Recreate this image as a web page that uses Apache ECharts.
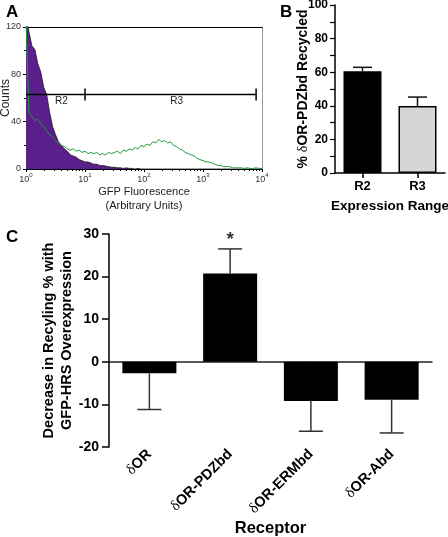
<!DOCTYPE html>
<html>
<head>
<meta charset="utf-8">
<script src="https://cdn.jsdelivr.net/npm/echarts@6/dist/echarts.min.js"></script>
<style>
html,body{margin:0;padding:0;background:#fff;}
#chart{width:448px;height:537px;}
</style>
</head>
<body>
<div id="chart"></div>
<script>
// ---------- Panel A: flow cytometry histogram ----------
// counts per histogram channel (81 channels spanning 10^0 .. 10^4)
const histControl = [130,116,104,101,89,82,69,63,48,36,29,23,20,17,15,12,11,10,8,7,
  6,6,5,4,4,3,3,2.5,2,1.5,1.5,1,1,0.5,1,0.5,0.5,0,0.5,0,
  0,0,0,0,0,0,0,0,0,0,0,0,0,0,0,0,0,0,0,0,
  0,0,0,0,0,0,0,0,0,0,0,0,0,0,0,0,0,0,0,0,0];
const histGFP = [125,48,44,41,42,38,36,32,29,27,24,22,20,19,17,16,17,15,16,14,
  15,13,14,13,14,12,13,12,14,13,14,15,13,16,15,17,16,18,17,20,
  19,21,20,23,22,25,23,24,22,23,20,19,17,16,14,13,12,11,9,8,
  7,6,6,5,4,3,3,2,2,2,1,1,1,1,0.5,1,0.5,0.5,1,0.5,0.5];
const histChannels = histControl.map((_, i) => i);
const decadeExponents = [0, 1, 2, 3, 4];
const gateNames = ['R2', 'R3'];
const gateFrom = [0, 1];      // decades
const gateTo = [1, 3.9];      // decades
const gateLevel = 63;         // counts

// ---------- Panel B ----------
const rangeCats = ['R2', 'R3'];
const rangeRecycled = [60.5, 39.9];
const rangeErr = [2.4, 5.3];

// ---------- Panel C ----------
const receptorCats = ['δOR', 'δOR-PDZbd', 'δOR-ERMbd', 'δOR-Abd'];
const receptorDecrease = [-2.7, 20.7, -9.2, -8.9];
const receptorErr = [8.5, 5.8, 7.1, 7.8];
const significantIdx = [1];

// minor log ticks (2..9 within each decade)
const minorDecadeTicks = [];
for (let d = 0; d < 4; d++) for (let k = 2; k <= 9; k++) minorDecadeTicks.push(d + Math.log10(k));

const SANS = 'Liberation Sans';
const deltaRich = (s) => s.split('δ').map((p, i) => (i > 0 ? '{d|δ}' : '') + (p ? '{t|' + p + '}' : '')).join('');

function errorRenderer(capW, color) {
  return function (params, api) {
    const c = api.value(0), v = api.value(1), e = api.value(2);
    const end = v >= 0 ? v + e : v - e;
    const p0 = api.coord([c, v]);
    const p1 = api.coord([c, end]);
    const style = { stroke: color, lineWidth: 1.5 };
    return {
      type: 'group',
      children: [
        { type: 'line', shape: { x1: p0[0], y1: p0[1], x2: p1[0], y2: p1[1] }, style },
        { type: 'line', shape: { x1: p1[0] - capW / 2, y1: p1[1], x2: p1[0] + capW / 2, y2: p1[1] }, style }
      ]
    };
  };
}

const chart = echarts.init(document.getElementById('chart'), null, { renderer: 'canvas' });
const option = {
  animation: false,
  textStyle: { fontFamily: SANS },
  title: [
    { text: 'A', left: 1, top: -1, textStyle: { fontSize: 17, fontWeight: 'bold', color: '#000', fontFamily: SANS } },
    { text: 'B', left: 275, top: -1, textStyle: { fontSize: 17, fontWeight: 'bold', color: '#000', fontFamily: SANS } },
    { text: 'C', left: 1, top: 224, textStyle: { fontSize: 17, fontWeight: 'bold', color: '#000', fontFamily: SANS } }
  ],
  grid: [
    { left: 26, top: 27, width: 236, height: 142, outerBoundsMode: 'none', containLabel: false },
    { left: 335, top: 5, width: 110, height: 168, outerBoundsMode: 'none', containLabel: false },
    { left: 109, top: 234, width: 323, height: 213, outerBoundsMode: 'none', containLabel: false }
  ],
  xAxis: [
    { gridIndex: 0, type: 'category', data: histChannels, boundaryGap: false, show: false },
    {
      gridIndex: 0, type: 'value', min: 0, max: 4, interval: 1, position: 'bottom',
      axisLine: { show: true, onZero: false, lineStyle: { color: '#000', width: 1 } },
      axisTick: { show: true, length: 3, lineStyle: { color: '#000' } },
      splitLine: { show: false },
      axisLabel: {
        margin: 3, showMinLabel: true, showMaxLabel: true,
        formatter: (v) => '{b|10}{s|' + decadeExponents[Math.round(v)] + '}',
        rich: {
          b: { fontSize: 9, color: '#333', fontFamily: SANS, lineHeight: 12, verticalAlign: 'bottom' },
          s: { fontSize: 6, color: '#333', fontFamily: SANS, lineHeight: 12, verticalAlign: 'top' }
        }
      },
      name: 'GFP Fluorescence\n(Arbitrary Units)', nameLocation: 'middle', nameGap: 16, nameMoveOverlap: false,
      nameTextStyle: { fontSize: 11, color: '#222', fontFamily: SANS, lineHeight: 14 }
    },
    {
      gridIndex: 0, type: 'value', min: 0, max: 4, position: 'bottom',
      axisLine: { show: false, onZero: false },
      axisTick: { show: true, length: 2, customValues: minorDecadeTicks, lineStyle: { color: '#000' } },
      axisLabel: { show: false }, splitLine: { show: false }
    },
    {
      gridIndex: 0, type: 'value', min: 0, max: 4, position: 'top',
      axisLine: { show: true, onZero: false, lineStyle: { color: '#000', width: 1 } },
      axisTick: { show: false }, axisLabel: { show: false }, splitLine: { show: false }
    },
    {
      gridIndex: 1, type: 'category', data: rangeCats, position: 'bottom',
      axisLine: { show: true, lineStyle: { color: '#000', width: 1.5 } },
      axisTick: { show: true, alignWithLabel: true, length: 5, lineStyle: { color: '#000', width: 1.5 } },
      axisLabel: { fontSize: 13, fontWeight: 'bold', color: '#000', margin: 7 },
      name: 'Expression Range', nameLocation: 'middle', nameGap: 26, nameMoveOverlap: false,
      nameTextStyle: { fontSize: 13.5, fontWeight: 'bold', color: '#000' }
    },
    {
      gridIndex: 2, type: 'category', data: receptorCats, position: 'bottom',
      axisLine: { show: false, onZero: false }, axisTick: { show: false },
      axisLabel: {
        rotate: 45, margin: 5, interval: 0,
        formatter: (v) => deltaRich(v),
        rich: {
          d: { fontSize: 15, fontFamily: 'Liberation Serif', color: '#000' },
          t: { fontSize: 14.5, fontWeight: 'bold', fontFamily: SANS, color: '#000' }
        }
      },
      name: 'Receptor', nameLocation: 'middle', nameGap: 73, nameMoveOverlap: false,
      nameTextStyle: { fontSize: 16.5, fontWeight: 'bold', color: '#000' }
    },
    {
      gridIndex: 2, type: 'category', data: receptorCats, position: 'bottom',
      axisLine: { show: true, onZero: true, lineStyle: { color: '#222', width: 1.5 } },
      axisTick: { show: true, alignWithLabel: true, length: 6, lineStyle: { color: '#222', width: 1.5 } },
      axisLabel: { show: false }
    }
  ],
  yAxis: [
    {
      gridIndex: 0, type: 'value', min: 0, max: 120, interval: 40, position: 'left',
      axisLine: { show: true, onZero: false, lineStyle: { color: '#000', width: 1 } },
      axisTick: { show: true, length: 3, lineStyle: { color: '#000' } },
      minorTick: { show: true, splitNumber: 2, length: 2, lineStyle: { color: '#000' } },
      splitLine: { show: false },
      axisLabel: { fontSize: 9, color: '#333', margin: 5 },
      name: 'Counts', nameLocation: 'middle', nameGap: 14, nameMoveOverlap: false,
      nameTextStyle: { fontSize: 12, color: '#222' }
    },
    {
      gridIndex: 0, type: 'value', min: 0, max: 120, position: 'right',
      axisLine: { show: true, onZero: false, lineStyle: { color: '#999', width: 1 } },
      axisTick: { show: false }, axisLabel: { show: false }, splitLine: { show: false }
    },
    {
      gridIndex: 1, type: 'value', min: 0, max: 100, interval: 20, position: 'left',
      axisLine: { show: true, lineStyle: { color: '#000', width: 1.5 } },
      axisTick: { show: true, length: 5, lineStyle: { color: '#000', width: 1.2 } },
      minorTick: { show: true, splitNumber: 2, length: 5, lineStyle: { color: '#000', width: 1.2 } },
      splitLine: { show: false },
      axisLabel: { fontSize: 12, fontWeight: 'bold', color: '#000', margin: 7 },
      name: '{p|% }{d|δ}{p|OR-PDZbd Recycled}', nameLocation: 'middle', nameGap: 25, nameMoveOverlap: false,
      nameTextStyle: {
        rich: {
          p: { fontSize: 14, fontWeight: 'bold', color: '#000', fontFamily: SANS },
          d: { fontSize: 14, color: '#000', fontFamily: 'Liberation Serif' }
        }
      }
    },
    {
      gridIndex: 2, type: 'value', min: -20, max: 30, interval: 10, position: 'left',
      axisLine: { show: true, onZero: false, lineStyle: { color: '#000', width: 1.5 } },
      axisTick: { show: true, length: 7, lineStyle: { color: '#000', width: 1.5 } },
      splitLine: { show: false },
      axisLabel: { fontSize: 14, fontWeight: 'bold', color: '#000', margin: 10 },
      name: 'Decrease in Recyling % with\nGFP-HRS Overexpression', nameLocation: 'middle', nameGap: 33, nameMoveOverlap: false,
      nameTextStyle: { fontSize: 14.5, fontWeight: 'bold', color: '#000', lineHeight: 18 }
    }
  ],
  series: [
    {
      type: 'line', xAxisIndex: 0, yAxisIndex: 0, data: histControl, symbol: 'none',
      lineStyle: { color: '#1a1a1a', width: 0.8 },
      areaStyle: { color: '#5b1f8c', opacity: 1 }, z: 2
    },
    {
      type: 'line', xAxisIndex: 0, yAxisIndex: 0, data: histGFP, symbol: 'none',
      lineStyle: { color: '#1f9a3c', width: 1 }, z: 3
    },
    {
      type: 'custom', xAxisIndex: 1, yAxisIndex: 0, z: 4,
      data: gateNames.map((n, i) => [gateFrom[i], gateTo[i], gateLevel, n]),
      encode: { x: [0, 1], y: 2 },
      renderItem: function (params, api) {
        const a = api.coord([api.value(0), api.value(2)]);
        const b = api.coord([api.value(1), api.value(2)]);
        const st = { stroke: '#000', lineWidth: 1.5 };
        const name = gateNames[params.dataIndex];
        return {
          type: 'group', children: [
            { type: 'line', shape: { x1: a[0], y1: a[1], x2: b[0], y2: b[1] }, style: st },
            { type: 'line', shape: { x1: b[0], y1: b[1] - 6, x2: b[0], y2: b[1] + 6 }, style: st },
            { type: 'text', x: (a[0] + b[0]) / 2 + 6, y: a[1] + 2,
              style: { text: name, fontSize: 10, fontFamily: SANS, fill: '#222', align: 'center', verticalAlign: 'top' } }
          ]
        };
      }
    },
    {
      type: 'bar', xAxisIndex: 4, yAxisIndex: 2, barWidth: 38,
      data: rangeRecycled.map((v, i) => ({ value: v, itemStyle: { color: i === 0 ? '#000' : '#d6d6d6' } })),
      itemStyle: { borderColor: '#000', borderWidth: 1.5 }, z: 2
    },
    {
      type: 'custom', xAxisIndex: 4, yAxisIndex: 2, z: 3,
      data: rangeRecycled.map((v, i) => [i, v, rangeErr[i]]),
      encode: { x: 0, y: [1] },
      renderItem: errorRenderer(19, '#111')
    },
    {
      type: 'bar', xAxisIndex: 6, yAxisIndex: 3, barWidth: 54,
      data: receptorDecrease, itemStyle: { color: '#000' }, z: 2
    },
    {
      type: 'custom', xAxisIndex: 6, yAxisIndex: 3, z: 3,
      data: receptorDecrease.map((v, i) => [i, v, receptorErr[i]]),
      encode: { x: 0, y: [1] },
      renderItem: errorRenderer(24, '#333')
    },
    {
      type: 'scatter', xAxisIndex: 6, yAxisIndex: 3, symbolSize: 0, z: 4,
      data: significantIdx.map((i) => [i, receptorDecrease[i] + receptorErr[i]]),
      label: { show: true, formatter: '*', position: 'top', distance: 0, fontSize: 19, fontWeight: 'bold', color: '#000' }
    }
  ]
};
chart.setOption(option);
</script>
</body>
</html>
